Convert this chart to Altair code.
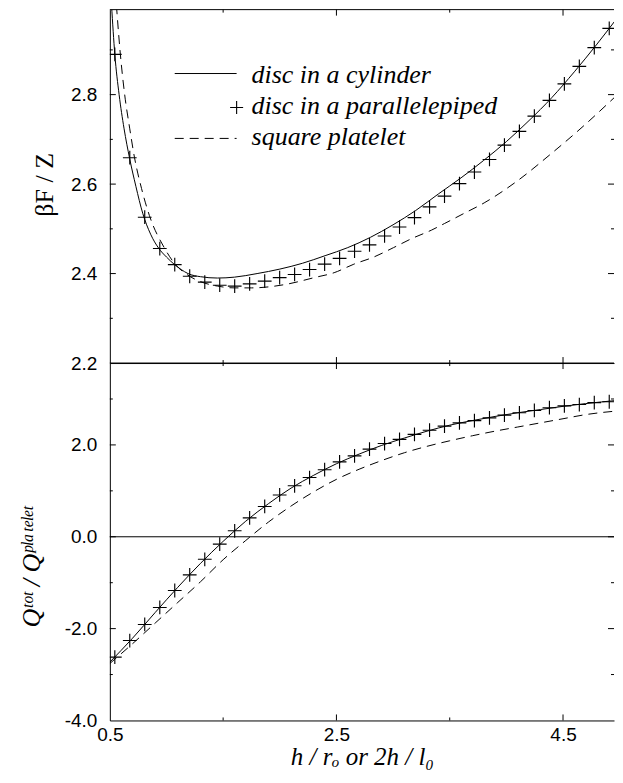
import altair as alt
import pandas as pd

# ---------------- data ----------------
# common x positions of the "+" markers (disc in a parallelepiped)
marker_x = [0.544, 0.676, 0.808, 0.941, 1.073, 1.205, 1.338, 1.470, 1.602, 1.734,
            1.867, 1.999, 2.131, 2.263, 2.396, 2.528, 2.660, 2.792, 2.925, 3.057,
            3.189, 3.322, 3.454, 3.586, 3.718, 3.851, 3.983, 4.115, 4.247, 4.380,
            4.512, 4.644, 4.776, 4.908]
# upper panel: beta F / Z
top_marker_y = [2.890, 2.659, 2.526, 2.456, 2.420, 2.394, 2.381, 2.374, 2.372, 2.377,
                2.383, 2.391, 2.398, 2.409, 2.421, 2.434, 2.450, 2.464, 2.484, 2.504,
                2.525, 2.549, 2.573, 2.601, 2.627, 2.655, 2.687, 2.718, 2.752, 2.787,
                2.824, 2.863, 2.905, 2.948]
top_cyl_x = [0.515, 0.544, 0.582, 0.625, 0.675, 0.73, 0.79, 0.86, 0.93, 1.0, 1.067,
             1.13, 1.19, 1.3, 1.45, 1.6, 1.8, 2.0, 2.2, 2.4, 2.6, 2.8, 3.0, 3.2, 3.4,
             3.6, 3.8, 4.0, 4.2, 4.4, 4.6, 4.8, 4.98]
top_cyl_y = [3.00, 2.89, 2.80, 2.725, 2.657, 2.595, 2.535, 2.488, 2.457, 2.437, 2.421,
             2.409, 2.400, 2.393, 2.390, 2.392, 2.400, 2.410, 2.423, 2.440, 2.458,
             2.481, 2.509, 2.541, 2.578, 2.614, 2.653, 2.695, 2.742, 2.793, 2.851,
             2.913, 2.972]
top_sq_x = [0.558, 0.593, 0.631, 0.675, 0.718, 0.78, 0.849, 0.98, 1.08, 1.18, 1.3,
            1.45, 1.6, 1.75, 2.057, 2.305, 2.48, 2.654, 2.83, 3.004, 3.163, 3.338,
            3.455, 3.63, 3.804, 4.096, 4.386, 4.677, 4.98]
top_sq_y = [3.00, 2.89, 2.80, 2.725, 2.659, 2.59, 2.53, 2.458, 2.42, 2.398, 2.382,
            2.372, 2.368, 2.368, 2.376, 2.391, 2.402, 2.421, 2.437, 2.458, 2.478,
            2.497, 2.512, 2.535, 2.558, 2.607, 2.666, 2.729, 2.80]
# lower panel: Q_tot / Q_platelet
bot_marker_y = [-2.62, -2.26, -1.91, -1.54, -1.17, -0.83, -0.49, -0.16, 0.13, 0.41,
                0.66, 0.91, 1.11, 1.29, 1.46, 1.63, 1.76, 1.91, 2.03, 2.12,
                2.23, 2.32, 2.41, 2.48, 2.53, 2.59, 2.65, 2.70, 2.75, 2.81,
                2.85, 2.88, 2.92, 2.94]
bot_cyl_x = [0.5, 0.7, 0.9, 1.1, 1.3, 1.5, 1.7, 1.9, 2.1, 2.3, 2.5, 2.7, 2.9, 3.1,
             3.3, 3.5, 3.7, 3.9, 4.1, 4.3, 4.5, 4.7, 4.98]
bot_cyl_y = [-2.73, -2.21, -1.65, -1.10, -0.58, -0.10, 0.34, 0.72, 1.06, 1.34, 1.59,
             1.80, 1.99, 2.15, 2.30, 2.43, 2.53, 2.62, 2.70, 2.77, 2.84, 2.90, 2.97]
bot_sq_x = [0.5, 0.7, 0.9, 1.1, 1.3, 1.5, 1.7, 1.9, 2.1, 2.3, 2.5, 2.7, 2.9, 3.1,
            3.3, 3.5, 3.7, 3.9, 4.1, 4.3, 4.5, 4.7, 4.98]
bot_sq_y = [-2.76, -2.33, -1.88, -1.43, -0.98, -0.50, -0.08, 0.32, 0.67, 0.98, 1.25,
            1.47, 1.66, 1.83, 1.97, 2.09, 2.20, 2.30, 2.39, 2.48, 2.57, 2.66, 2.74]

legend_labels = ["disc in a cylinder", "disc in a parallelepiped", "square platelet"]

x_tick_major = [2.5, 4.5]
x_tick_minor = [1.5, 3.5]
top_tick_major = [2.4, 2.6, 2.8]
top_tick_minor = [2.3, 2.5, 2.7, 2.9]
bot_tick_major = [-2.0, 0.0, 2.0]
bot_tick_minor = [-3.0, -1.0, 1.0, 3.0]
x_labels = [0.5, 2.5, 4.5]
top_labels = [2.2, 2.4, 2.6, 2.8]
bot_labels = [-4.0, -2.0, 0.0, 2.0]

# ---------------- layout / style ----------------
W, H_TOP, H_BOT = 505, 354, 358
SANS = "Liberation Sans"
SERIF = "Liberation Serif"
PLUS = "M-1,0L1,0M0,-1L0,1"

xs = alt.Scale(domain=[0.5, 4.95], nice=False, zero=False)
ys_top = alt.Scale(domain=[2.2, 2.99], nice=False, zero=False)
ys_bot = alt.Scale(domain=[-4.0, 3.783], nice=False, zero=False)

HYPHEN = "replace(datum.label, '\u2212', '-')"


def lab_axis(**kw):
    base = dict(format=".1f", labelExpr=HYPHEN, labelFlush=False, labelOverlap=False,
                ticks=False, labelFont=SANS, labelFontSize=19, labelColor="black",
                domainColor="black", domainWidth=1, grid=False,
                titleFont=SERIF, titleFontSize=26, titleFontWeight="normal",
                titleColor="black")
    base.update(kw)
    return alt.Axis(**base)


ax_x_top = alt.Axis(labels=False, ticks=False, title=None, domainColor="black",
                    domainWidth=1, grid=False)
ax_x_bot = lab_axis(values=x_labels, labelPadding=5, title="h / rₒ or 2h / l₀",
                    titleFontStyle="italic", titleFontSize=25, titleY=44,
                    titleBaseline="alphabetic")
ax_y_top = lab_axis(values=top_labels, labelPadding=13, title="βF / Z",
                    titleAngle=270, titleX=-65, titleY=175, titleAlign="center",
                    titleBaseline="middle")
ax_y_bot = lab_axis(values=bot_labels, labelPadding=13, title="Qᵗᵒᵗ / Qᵖˡᵃᵗᵉˡᵉᵗ",
                    titleFontStyle="italic", titleAngle=270, titleX=-78, titleY=204,
                    titleAlign="center", titleBaseline="middle")

one = pd.DataFrame({"k": [0]})


def curves(cx, cy, sx, sy, my, yscale, xaxis, yaxis):
    X = alt.X("x:Q", scale=xs, axis=xaxis)
    Y = alt.Y("y:Q", scale=yscale, axis=yaxis)
    solid = alt.Chart(pd.DataFrame({"x": cx, "y": cy})).mark_line(
        color="black", strokeWidth=1, interpolate="monotone", clip=True
    ).encode(x=X, y=Y)
    dashed = alt.Chart(pd.DataFrame({"x": sx, "y": sy})).mark_line(
        color="black", strokeWidth=1, strokeDash=[9, 6], interpolate="monotone",
        clip=True
    ).encode(x=X, y=Y)
    pts = alt.Chart(pd.DataFrame({"x": marker_x, "y": my})).mark_point(
        shape=PLUS, size=190, filled=False, color="black", strokeWidth=1.15,
        opacity=1, clip=True
    ).encode(x=X, y=Y)
    return [solid, dashed, pts], X, Y


def ticks(X, Y, ymaj, ymin, H):
    out = []
    for vals, ln in ((ymaj, 6), (ymin, 3)):
        d = pd.DataFrame({"y": vals})
        out.append(alt.Chart(d).mark_rule(color="black", strokeWidth=1).encode(
            y=Y, x=alt.value(0), x2=alt.value(ln)))
        out.append(alt.Chart(d).mark_rule(color="black", strokeWidth=1).encode(
            y=Y, x=alt.value(W - ln), x2=alt.value(W)))
    for vals, ln in ((x_tick_major, 6), (x_tick_minor, 3)):
        d = pd.DataFrame({"x": vals})
        out.append(alt.Chart(d).mark_rule(color="black", strokeWidth=1).encode(
            x=X, y=alt.value(0), y2=alt.value(ln)))
        out.append(alt.Chart(d).mark_rule(color="black", strokeWidth=1).encode(
            x=X, y=alt.value(H - ln), y2=alt.value(H)))
    return out


# ---------------- upper panel ----------------
t_layers, Xt, Yt = curves(top_cyl_x, top_cyl_y, top_sq_x, top_sq_y, top_marker_y,
                          ys_top, ax_x_top, ax_y_top)
t_layers += ticks(Xt, Yt, top_tick_major, top_tick_minor, H_TOP)
t_layers.append(alt.Chart(one).mark_rule(color="black", strokeWidth=1).encode(
    x=alt.value(0), x2=alt.value(W), y=alt.value(0)))

# legend
LX0, LX1, TX = 65, 127, 142
t_layers.append(alt.Chart(one).mark_rule(color="black", strokeWidth=1).encode(
    x=alt.value(LX0), x2=alt.value(LX1), y=alt.value(64)))
t_layers.append(alt.Chart(one).mark_point(
    shape=PLUS, size=170, filled=False, color="black", strokeWidth=1.1, opacity=1
).encode(x=alt.value(LX1), y=alt.value(98)))
t_layers.append(alt.Chart(one).mark_rule(color="black", strokeWidth=1,
                                         strokeDash=[9, 6]).encode(
    x=alt.value(LX0), x2=alt.value(LX1), y=alt.value(129)))
for lbl, yy in zip(legend_labels, (73, 105, 136)):
    t_layers.append(alt.Chart(one).mark_text(
        align="left", baseline="alphabetic", font=SERIF, fontStyle="italic",
        fontSize=26, color="black"
    ).encode(x=alt.value(TX), y=alt.value(yy), text=alt.value(lbl)))

top = alt.layer(*t_layers).properties(width=W, height=H_TOP)

# ---------------- lower panel ----------------
b_layers, Xb, Yb = curves(bot_cyl_x, bot_cyl_y, bot_sq_x, bot_sq_y, bot_marker_y,
                          ys_bot, ax_x_bot, ax_y_bot)
b_layers.insert(0, alt.Chart(pd.DataFrame({"y": [0.0]})).mark_rule(
    color="black", strokeWidth=1).encode(y=Yb))
b_layers += ticks(Xb, Yb, bot_tick_major, bot_tick_minor, H_BOT)
b_layers.append(alt.Chart(one).mark_rule(color="black", strokeWidth=1).encode(
    x=alt.value(0), x2=alt.value(W), y=alt.value(0)))

bottom = alt.layer(*b_layers).properties(width=W, height=H_BOT)

chart = alt.vconcat(top, bottom, spacing=0, bounds="flush").properties(
    padding={"left": 11, "top": 0, "right": 0, "bottom": 0},
    background="white",
).configure_view(stroke=None)

chart.save("out.html", embed_options={"renderer": "svg", "actions": False})
